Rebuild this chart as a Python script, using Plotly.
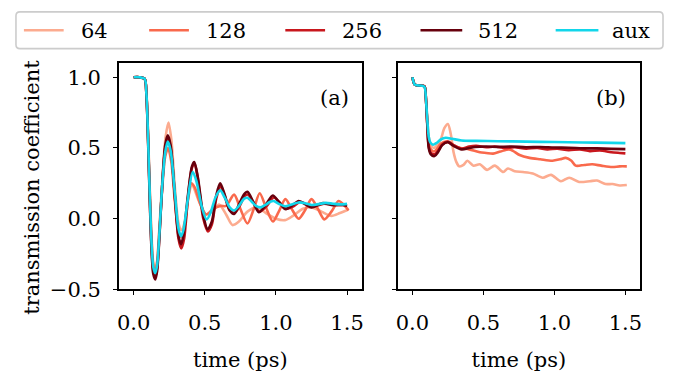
import plotly.graph_objects as go

# ---------------- data ----------------
labels = ["64", "128", "256", "512", "aux"]
colors = ["#fcab8f", "#f9694c", "#c8171d", "#67000d", "#12d6ea"]

# panel (a)
t_a_aux = [0, 0.04, 0.077, 0.09, 0.10, 0.112, 0.125, 0.138, 0.152, 0.165, 0.18, 0.20, 0.222, 0.24, 0.26, 0.29, 0.315,
           0.333, 0.35, 0.38, 0.415, 0.44, 0.48, 0.513, 0.54, 0.575, 0.608, 0.64, 0.675, 0.706, 0.74, 0.775, 0.80,
           0.83, 0.86, 0.892, 0.93, 0.96, 0.985, 1.02, 1.064, 1.11, 1.16, 1.21, 1.25, 1.30, 1.35, 1.40, 1.45, 1.50]
v_a_aux = [1.0, 1.0, 0.99, 0.88, 0.62, 0.22, -0.15, -0.34, -0.385, -0.33, -0.12, 0.22, 0.47, 0.545, 0.48, 0.18, -0.07,
           -0.125, -0.08, 0.13, 0.33, 0.27, 0.08, -0.005, 0.04, 0.15, 0.20, 0.15, 0.08, 0.058, 0.09, 0.14, 0.148,
           0.12, 0.09, 0.08, 0.10, 0.12, 0.125, 0.105, 0.088, 0.10, 0.115, 0.108, 0.097, 0.103, 0.112, 0.106, 0.101, 0.105]

t_a_512 = [0, 0.04, 0.077, 0.09, 0.10, 0.112, 0.125, 0.138, 0.152, 0.165, 0.18, 0.20, 0.222, 0.24, 0.26, 0.29, 0.315,
           0.333, 0.35, 0.38, 0.41, 0.426, 0.45, 0.49, 0.52, 0.55, 0.58, 0.608, 0.64, 0.675, 0.706, 0.74, 0.775, 0.80,
           0.84, 0.88, 0.93, 0.978, 1.02, 1.064, 1.11, 1.16, 1.21, 1.25, 1.33, 1.40, 1.45, 1.50]
v_a_512 = [1.0, 1.0, 0.99, 0.87, 0.60, 0.18, -0.20, -0.39, -0.43, -0.37, -0.15, 0.22, 0.52, 0.59, 0.52, 0.16, -0.12,
           -0.18, -0.12, 0.15, 0.37, 0.40, 0.30, 0.02, -0.075, -0.02, 0.16, 0.25, 0.17, 0.06, 0.034, 0.10, 0.17, 0.19,
           0.12, 0.046, 0.10, 0.164, 0.12, 0.068, 0.09, 0.125, 0.10, 0.08, 0.11, 0.095, 0.10, 0.092]

t_a_256 = [0, 0.04, 0.077, 0.09, 0.10, 0.112, 0.125, 0.138, 0.152, 0.165, 0.18, 0.20, 0.222, 0.24, 0.26, 0.29, 0.315,
           0.335, 0.355, 0.38, 0.41, 0.428, 0.45, 0.49, 0.522, 0.55, 0.58, 0.612, 0.64, 0.675, 0.71, 0.745, 0.78,
           0.805, 0.845, 0.885, 0.935, 0.985, 1.03, 1.07, 1.12, 1.17, 1.22, 1.26, 1.33, 1.40, 1.45, 1.50]
v_a_256 = [1.0, 1.0, 0.99, 0.87, 0.61, 0.20, -0.18, -0.37, -0.41, -0.35, -0.14, 0.22, 0.50, 0.57, 0.50, 0.15, -0.14,
           -0.21, -0.14, 0.13, 0.36, 0.39, 0.29, 0.0, -0.09, -0.04, 0.14, 0.23, 0.16, 0.06, 0.04, 0.09, 0.16, 0.17,
           0.11, 0.05, 0.09, 0.15, 0.11, 0.07, 0.085, 0.12, 0.10, 0.085, 0.105, 0.10, 0.095, 0.098]

t_a_128 = [0, 0.04, 0.077, 0.09, 0.10, 0.112, 0.125, 0.138, 0.152, 0.165, 0.18, 0.20, 0.222, 0.242, 0.265, 0.29, 0.315,
           0.335, 0.36, 0.385, 0.405, 0.43, 0.47, 0.51, 0.56, 0.61, 0.65, 0.706, 0.75, 0.80, 0.845, 0.886, 0.93,
           0.979, 1.02, 1.067, 1.11, 1.16, 1.205, 1.25, 1.295, 1.34, 1.39, 1.44, 1.475, 1.51]
v_a_128 = [1.0, 1.0, 0.99, 0.88, 0.63, 0.23, -0.13, -0.33, -0.37, -0.31, -0.10, 0.20, 0.44, 0.50, 0.40, 0.12, -0.09,
           -0.13, -0.05, 0.16, 0.25, 0.22, 0.10, 0.03, 0.07, 0.09, 0.09, 0.17, 0.07, -0.034, 0.07, 0.18, 0.08,
           -0.02, 0.05, 0.138, 0.07, 0.0, 0.06, 0.138, 0.07, -0.005, 0.05, 0.125, 0.10, 0.06]

t_a_64 = [0, 0.04, 0.077, 0.09, 0.10, 0.112, 0.125, 0.138, 0.152, 0.165, 0.18, 0.20, 0.225, 0.245, 0.265, 0.29, 0.315,
          0.335, 0.36, 0.385, 0.41, 0.46, 0.51, 0.56, 0.60, 0.65, 0.695, 0.74, 0.80, 0.868, 0.93, 1.0, 1.064, 1.12,
          1.19, 1.25, 1.32, 1.39, 1.45, 1.51]
v_a_64 = [1.0, 1.0, 0.99, 0.89, 0.65, 0.26, -0.10, -0.31, -0.36, -0.30, -0.08, 0.25, 0.58, 0.68, 0.56, 0.22, -0.03,
          -0.08, -0.02, 0.15, 0.24, 0.12, 0.03, 0.06, 0.10, 0.03, -0.045, -0.02, 0.05, 0.08, 0.04, 0.0, -0.01, 0.02,
          0.07, 0.08, 0.05, 0.02, 0.04, 0.065]

# panel (b)
t_b_aux = [0, 0.015, 0.03, 0.07, 0.086, 0.095, 0.105, 0.115, 0.126, 0.145, 0.17, 0.20, 0.235, 0.28, 0.347, 0.45, 0.6,
           0.8, 1.0, 1.2, 1.4, 1.5]
v_b_aux = [1.0, 0.95, 0.943, 0.94, 0.93, 0.85, 0.70, 0.58, 0.54, 0.523, 0.535, 0.56, 0.572, 0.565, 0.553, 0.55, 0.548,
           0.545, 0.542, 0.539, 0.536, 0.534]

t_b_512 = [0, 0.015, 0.03, 0.07, 0.086, 0.095, 0.105, 0.115, 0.13, 0.156, 0.18, 0.21, 0.25, 0.29, 0.347, 0.40, 0.44,
           0.52, 0.60, 0.70, 0.80, 0.90, 1.0, 1.1, 1.2, 1.3, 1.4, 1.5]
v_b_512 = [1.0, 0.95, 0.943, 0.94, 0.935, 0.85, 0.66, 0.50, 0.455, 0.443, 0.47, 0.52, 0.54, 0.515, 0.49, 0.50, 0.507,
           0.51, 0.508, 0.51, 0.505, 0.507, 0.503, 0.502, 0.498, 0.497, 0.494, 0.492]

t_b_256 = [0, 0.015, 0.03, 0.07, 0.086, 0.095, 0.105, 0.115, 0.13, 0.156, 0.18, 0.21, 0.25, 0.29, 0.347, 0.40, 0.45,
           0.52, 0.58, 0.65, 0.72, 0.80, 0.88, 0.95, 1.02, 1.10, 1.18, 1.25, 1.32, 1.40, 1.46, 1.5]
v_b_256 = [1.0, 0.95, 0.943, 0.94, 0.935, 0.85, 0.67, 0.51, 0.465, 0.455, 0.48, 0.525, 0.545, 0.52, 0.495, 0.51, 0.515,
           0.505, 0.51, 0.50, 0.505, 0.495, 0.50, 0.49, 0.495, 0.485, 0.49, 0.478, 0.482, 0.47, 0.465, 0.462]

t_b_128 = [0, 0.015, 0.03, 0.07, 0.086, 0.095, 0.105, 0.115, 0.13, 0.15, 0.17, 0.20, 0.245, 0.29, 0.335, 0.40, 0.475,
           0.52, 0.568, 0.62, 0.68, 0.708, 0.755, 0.825, 0.90, 0.987, 1.04, 1.08, 1.12, 1.15, 1.21, 1.267, 1.33,
           1.407, 1.46, 1.51]
v_b_128 = [1.0, 0.95, 0.943, 0.94, 0.935, 0.855, 0.67, 0.53, 0.49, 0.475, 0.49, 0.53, 0.545, 0.52, 0.50, 0.49, 0.47,
           0.465, 0.46, 0.475, 0.49, 0.48, 0.45, 0.43, 0.42, 0.41, 0.42, 0.43, 0.41, 0.375, 0.38, 0.385, 0.375,
           0.365, 0.37, 0.37]

t_b_64 = [0, 0.015, 0.03, 0.07, 0.086, 0.095, 0.105, 0.115, 0.13, 0.15, 0.175, 0.20, 0.225, 0.25, 0.27, 0.29, 0.31,
          0.33, 0.36, 0.387, 0.43, 0.475, 0.526, 0.58, 0.64, 0.673, 0.72, 0.778, 0.848, 0.918, 0.976, 1.046, 1.104,
          1.174, 1.25, 1.30, 1.36, 1.41, 1.46, 1.51]
v_b_64 = [1.0, 0.95, 0.943, 0.94, 0.935, 0.86, 0.70, 0.58, 0.52, 0.50, 0.52, 0.56, 0.64, 0.67, 0.60, 0.47, 0.40,
          0.37, 0.38, 0.41, 0.375, 0.385, 0.345, 0.375, 0.33, 0.355, 0.335, 0.33, 0.32, 0.29, 0.31, 0.265, 0.29,
          0.26, 0.265, 0.27, 0.245, 0.245, 0.235, 0.238]

x_ticks = [0.0, 0.5, 1.0, 1.5]
x_tick_text = ["0.0", "0.5", "1.0", "1.5"]
y_ticks = [-0.5, 0.0, 0.5, 1.0]
y_tick_text = ["\u22120.5", "0.0", "0.5", "1.0"]

series_a = [(t_a_64, v_a_64), (t_a_128, v_a_128), (t_a_256, v_a_256), (t_a_512, v_a_512), (t_a_aux, v_a_aux)]
series_b = [(t_b_64, v_b_64), (t_b_128, v_b_128), (t_b_256, v_b_256), (t_b_512, v_b_512), (t_b_aux, v_b_aux)]

# ---------------- figure ----------------
FONT = "DejaVu Serif"
FS = 21
OFF = 8                 # the page body adds an 8 px margin on every side; keep the page at 675x380
W, H = 675 - 2 * OFF, 380 - 2 * OFF


def px(x):
    return (x - OFF) / W


def py(y):
    return 1 - (y - OFF) / H


fig = go.Figure()
for i, (lab, col) in enumerate(zip(labels, colors)):
    t, v = series_a[i]
    fig.add_trace(go.Scatter(x=t, y=v, mode="lines", name=lab, showlegend=False,
                             line=dict(color=col, width=2.6, shape="spline", smoothing=0.8),
                             xaxis="x", yaxis="y"))
for i, (lab, col) in enumerate(zip(labels, colors)):
    t, v = series_b[i]
    fig.add_trace(go.Scatter(x=t, y=v, mode="lines", name=lab, showlegend=False,
                             line=dict(color=col, width=2.6, shape="spline", smoothing=0.8),
                             xaxis="x2", yaxis="y2"))

axis_common = dict(showline=True, mirror=True, linecolor="black", linewidth=1.6, showgrid=False,
                   zeroline=False, ticks="outside", ticklen=4, tickwidth=1.3, tickcolor="black",
                   tickfont=dict(family=FONT, size=FS, color="black"))

xrange = [-0.104, 1.604]
yrange = [-0.5, 1.1]
ydom = [py(299), py(65)]

# legend (drawn as a framed row of line samples and labels)
leg_box = (14, 12, 665, 50)           # px: left, top, right, bottom
leg_line_x = [(22, 62), (148, 188), (285, 325), (421, 463), (557, 600)]
leg_text_x = [77, 203, 340, 477, 612]
leg_y = 31

shapes = []
l, t, r, b = leg_box
rad = 4
path = (f"M{px(l + rad)},{py(t)} L{px(r - rad)},{py(t)} Q{px(r)},{py(t)} {px(r)},{py(t + rad)} "
        f"L{px(r)},{py(b - rad)} Q{px(r)},{py(b)} {px(r - rad)},{py(b)} L{px(l + rad)},{py(b)} "
        f"Q{px(l)},{py(b)} {px(l)},{py(b - rad)} L{px(l)},{py(t + rad)} Q{px(l)},{py(t)} {px(l + rad)},{py(t)} Z")
shapes.append(dict(type="path", path=path, xref="paper", yref="paper",
                   line=dict(color="#cccccc", width=1.6), fillcolor="rgba(255,255,255,0.8)", layer="above"))
annotations = []
for (x0, x1), tx, lab, col in zip(leg_line_x, leg_text_x, labels, colors):
    shapes.append(dict(type="line", xref="paper", yref="paper", x0=px(x0), x1=px(x1), y0=py(leg_y), y1=py(leg_y),
                       line=dict(color=col, width=2.6), layer="above"))
    annotations.append(dict(text=lab, x=px(tx), y=py(leg_y + 1), xref="paper", yref="paper", showarrow=False,
                            xanchor="left", yanchor="middle", font=dict(family=FONT, size=FS, color="black")))

annotations += [
    dict(text="(a)", x=px(334), y=py(101), xref="paper", yref="paper", showarrow=False,
         xanchor="center", yanchor="middle", font=dict(family=FONT, size=FS)),
    dict(text="(b)", x=px(613), y=py(101), xref="paper", yref="paper", showarrow=False,
         xanchor="center", yanchor="middle", font=dict(family=FONT, size=FS)),
    dict(text="transmission coefficient", x=px(30), y=py(193), xref="paper", yref="paper", showarrow=False,
         textangle=-90, xanchor="center", yanchor="middle", font=dict(family=FONT, size=FS)),
]

fig.update_layout(
    width=W, height=H,
    margin=dict(l=0, r=0, t=0, b=0),
    paper_bgcolor="white", plot_bgcolor="white",
    font=dict(family=FONT, size=FS, color="black"),
    showlegend=False,
    xaxis=dict(domain=[px(117.5), px(362)], range=xrange, tickvals=x_ticks, ticktext=x_tick_text,
               title=dict(text="time (ps)", font=dict(family=FONT, size=FS), standoff=20), anchor="y",
               ticklabelstandoff=10, **axis_common),
    xaxis2=dict(domain=[px(398), px(642)], range=xrange, tickvals=x_ticks, ticktext=x_tick_text,
                title=dict(text="time (ps)", font=dict(family=FONT, size=FS), standoff=20), anchor="y2",
                ticklabelstandoff=10, **axis_common),
    yaxis=dict(domain=ydom, range=yrange, tickvals=y_ticks, ticktext=y_tick_text, anchor="x",
               ticklabelstandoff=8, **axis_common),
    yaxis2=dict(domain=ydom, range=yrange, tickvals=y_ticks, showticklabels=False, anchor="x2",
                matches="y", **axis_common),
    shapes=shapes,
    annotations=annotations,
)

fig.write_html("out.html")
